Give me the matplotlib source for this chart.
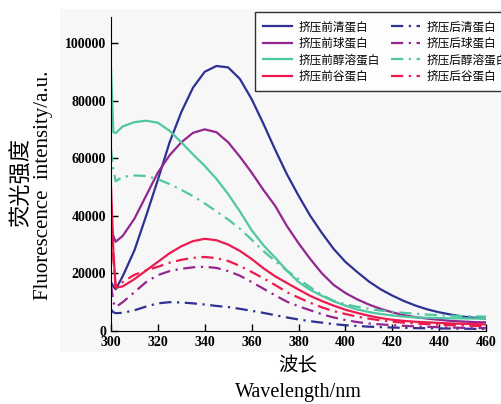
import numpy as np
import matplotlib
matplotlib.use('Agg')
import matplotlib.pyplot as plt
from matplotlib.patches import Rectangle

wavelength = [300, 301, 302, 305, 310, 315, 320, 325, 330, 335, 340, 345, 350, 355, 360, 365, 370,
              375, 380, 385, 390, 395, 400, 405, 410, 415, 420, 425, 430, 435, 440, 445, 450, 455, 460]

# before extrusion
albumin_pre = [17000, 15500, 14500, 19000, 28000, 40000, 52500, 65500, 76000, 84500, 90000, 92000, 91500,
               87500, 80500, 72000, 63000, 54500, 47000, 40000, 34000, 28500, 24000, 20500, 17200, 14500,
               12300, 10400, 8800, 7500, 6500, 5700, 5000, 4600, 4300]
globulin_pre = [36000, 33000, 31000, 33000, 39000, 47000, 55000, 61000, 65500, 68800, 70000, 69000, 65500,
                60500, 55000, 49000, 43500, 36500, 30500, 25000, 20000, 16000, 13200, 11000, 9200, 7700,
                6500, 5500, 4800, 4300, 3900, 3500, 3300, 3100, 3000]
prolamin_pre = [91000, 69000, 68700, 71000, 72500, 73000, 72300, 69500, 65500, 61300, 57300, 52800, 47500,
                41500, 35000, 29800, 25500, 21000, 17000, 14300, 12200, 10300, 8800, 7500, 6600, 5900,
                5400, 5000, 4700, 4600, 4500, 4400, 4400, 4300, 4300]
glutelin_pre = [50000, 28000, 15000, 15500, 18000, 21000, 24000, 27000, 29400, 31200, 32000, 31500, 30000,
                27800, 25000, 21800, 19000, 16700, 14400, 12200, 10400, 8800, 7400, 6300, 5300, 4500,
                3900, 3500, 3200, 3000, 2800, 2600, 2500, 2400, 2300]

# after extrusion
albumin_post = [7500, 6500, 6200, 6300, 7200, 8500, 9600, 10000, 9900, 9600, 9200, 8700, 8300, 7700, 7000,
                6300, 5500, 4700, 4000, 3400, 2900, 2400, 2000, 1750, 1500, 1350, 1200, 1100, 1000, 950,
                900, 850, 800, 750, 700]
globulin_post = [16000, 10000, 8300, 10000, 13500, 17000, 19400, 20800, 21600, 22100, 22300, 21900, 20800,
                 19200, 17000, 14700, 12400, 10200, 8600, 7200, 5800, 4700, 3800, 3100, 2600, 2300, 2000,
                 1800, 1600, 1450, 1300, 1200, 1100, 1050, 1000]
prolamin_post = [63000, 56000, 52000, 53500, 54000, 53800, 52700, 51000, 49000, 46800, 44300, 41500, 38700,
                 35500, 31700, 27800, 24300, 21000, 18000, 15200, 12500, 10500, 9300, 8400, 7700, 7100,
                 6700, 6300, 6000, 5700, 5500, 5300, 5200, 5100, 5000]
glutelin_post = [45000, 25000, 15000, 17000, 19500, 21000, 22300, 23700, 24700, 25400, 25700, 25300, 24300,
                 22600, 20500, 18300, 16000, 13500, 11600, 9800, 8200, 6900, 5900, 5000, 4300, 3700, 3200,
                 2900, 2600, 2400, 2200, 2000, 1900, 1800, 1700]

labels_pre = ['挤压前清蛋白', '挤压前球蛋白', '挤压前醇溶蛋白', '挤压前谷蛋白']
labels_post = ['挤压后清蛋白', '挤压后球蛋白', '挤压后醇溶蛋白', '挤压后谷蛋白']
colors = ['#2e3192', '#92278f', '#4fc7a2', '#ec1a4e']

plt.rcParams['font.family'] = ['Liberation Serif', 'Noto Sans CJK SC']

fig = plt.figure(figsize=(5.02, 4.04), dpi=100)
fig.patches.append(Rectangle((60 / 502, 1 - 352 / 404), 442 / 502, 343 / 404,
                             transform=fig.transFigure, facecolor='#f7f7f7', edgecolor='none', zorder=-10))
ax = fig.add_axes([111 / 502, 73 / 404, 375 / 502, 314 / 404])
ax.patch.set_alpha(0)

handles = []
for y, c in zip([albumin_pre, globulin_pre, prolamin_pre, glutelin_pre], colors):
    h, = ax.plot(wavelength, y, color=c, lw=1.6)
    handles.append(h)
for y, c in zip([albumin_post, globulin_post, prolamin_post, glutelin_post], colors):
    h, = ax.plot(wavelength, y, color=c, lw=1.6, linestyle=(0, (5.5, 2.5, 1, 2.5)))
    handles.append(h)

ax.set_xlim(300, 460)
ax.set_ylim(0, 109000)
ax.set_xticks(np.arange(300, 461, 20))
ax.set_yticks(np.arange(0, 100001, 20000))
ax.spines['top'].set_visible(False)
ax.spines['right'].set_visible(False)
ax.tick_params(direction='in', length=5, width=1, labelsize=10)
for lab in ax.get_xticklabels() + ax.get_yticklabels():
    lab.set_fontweight('bold')

leg = fig.legend(handles, labels_pre + labels_post, ncol=2, loc='upper left',
                 bbox_to_anchor=(255 / 502, 1 - 12 / 404), bbox_transform=fig.transFigure,
                 prop={'family': ['Noto Sans CJK SC'], 'size': 8.4}, frameon=True, fancybox=False,
                 edgecolor='black', handlelength=2.5, handletextpad=0.5, columnspacing=1.0,
                 labelspacing=0.3, borderpad=0.7, borderaxespad=0)
leg.get_frame().set_linewidth(1.0)
leg.get_frame().set_facecolor('white')

fig.text(21 / 502, 1 - 183 / 404, '荧光强度', rotation=90, ha='center', va='center',
         fontsize=16, family=['Noto Sans CJK SC'])
fig.text(44 / 502, 1 - 185 / 404, 'Fluorescence  intensity/a.u.', rotation=90, ha='center', va='center',
         fontsize=15)
fig.text(298 / 502, 1 - 366 / 404, '波长', ha='center', va='center', fontsize=14, family=['Noto Sans CJK SC'])
fig.text(298 / 502, 1 - 392 / 404, 'Wavelength/nm', ha='center', va='center', fontsize=14.5)

fig.savefig('out.png', dpi=100)
